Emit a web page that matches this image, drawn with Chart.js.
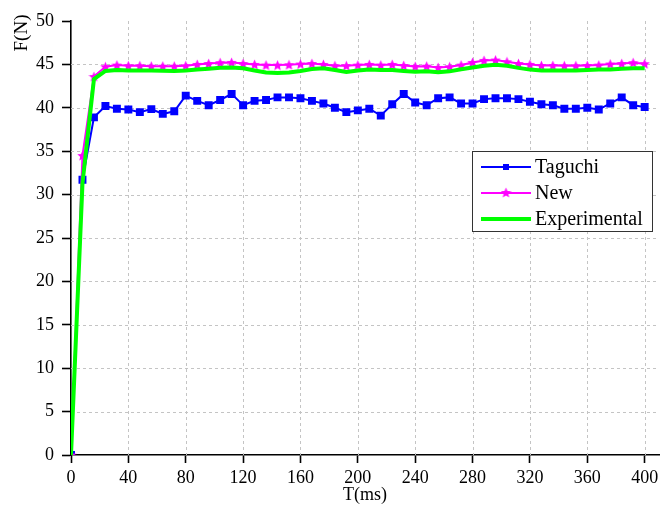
<!DOCTYPE html>
<html>
<head>
<meta charset="utf-8">
<script src="https://cdn.jsdelivr.net/npm/chart.js@4.4.1/dist/chart.umd.min.js"></script>
<style>
  html, body { margin: 0; padding: 0; background: #fff; }
  #wrap { width: 660px; height: 511px; }
</style>
</head>
<body>
<div id="wrap"><canvas id="forceChart" width="660" height="511"></canvas></div>
<script>
// --- data (time step 8 ms) ---
const timeMs = [0, 8, 16, 24, 32, 40, 48, 56, 64, 72, 80, 88, 96, 104, 112, 120, 128, 136, 144, 152,
  160, 168, 176, 184, 192, 200, 208, 216, 224, 232, 240, 248, 256, 264, 272, 280, 288, 296, 304, 312,
  320, 328, 336, 344, 352, 360, 368, 376, 384, 392, 400];

const taguchi = [0, 31.7, 38.9, 40.2, 39.9, 39.8, 39.5, 39.85, 39.3, 39.6, 41.4, 40.8, 40.3, 40.9, 41.6, 40.3, 40.8, 40.9, 41.2, 41.2,
  41.1, 40.8, 40.5, 40.0, 39.5, 39.7, 39.9, 39.1, 40.4, 41.6, 40.6, 40.3, 41.1, 41.2, 40.5, 40.5, 41.0, 41.1, 41.1, 41.0,
  40.7, 40.4, 40.3, 39.9, 39.9, 40.0, 39.8, 40.5, 41.2, 40.3, 40.1];

const newModel = [0, 34.5, 43.6, 44.73, 44.92, 44.85, 44.85, 44.8, 44.8, 44.8, 44.85, 45.0, 45.1, 45.2, 45.23, 45.1, 45.0, 44.92, 44.92, 44.96,
  45.04, 45.1, 45.0, 44.85, 44.85, 44.92, 45.0, 44.92, 45.0, 44.88, 44.77, 44.8, 44.65, 44.73, 44.92, 45.23, 45.46, 45.5, 45.3, 45.1,
  45.0, 44.88, 44.88, 44.85, 44.85, 44.88, 44.92, 45.04, 45.1, 45.2, 45.08];

const experimental = [0, 31.3, 43.3, 44.25, 44.35, 44.3, 44.3, 44.3, 44.27, 44.25, 44.3, 44.42, 44.5, 44.6, 44.65, 44.55, 44.3, 44.08, 44.0, 44.08,
  44.25, 44.47, 44.55, 44.35, 44.12, 44.3, 44.4, 44.35, 44.35, 44.25, 44.15, 44.2, 44.1, 44.2, 44.45, 44.65, 44.85, 44.95, 44.85, 44.6,
  44.4, 44.3, 44.3, 44.3, 44.3, 44.35, 44.4, 44.4, 44.5, 44.55, 44.55];

const seriesNames = ['Taguchi', 'New', 'Experimental'];
const xTickValues = [0, 40, 80, 120, 160, 200, 240, 280, 320, 360, 400];
const yTickValues = [0, 5, 10, 15, 20, 25, 30, 35, 40, 45, 50];
const yTitle = 'F(N)';
const xTitle = 'T(ms)';

const FONT = '"Liberation Serif", "Times New Roman", serif';
const BLUE = '#0000ff', MAGENTA = '#ff00ff', GREEN = '#00ff00';
const GRID = '#c4c4c4';

// filled five-point star used as point marker
function starImage(color, size) {
  const c = document.createElement('canvas');
  c.width = size; c.height = size;
  const g = c.getContext('2d');
  const cx = size / 2, cy = size / 2 + 0.5, ro = size / 2, ri = ro * 0.45;
  g.beginPath();
  for (let i = 0; i < 10; i++) {
    const r = i % 2 ? ri : ro;
    const a = -Math.PI / 2 + i * Math.PI / 5;
    g.lineTo(cx + r * Math.cos(a), cy + r * Math.sin(a));
  }
  g.closePath();
  g.fillStyle = color;
  g.fill();
  return c;
}
const star = starImage(MAGENTA, 11);

const toXY = vals => vals.map((v, i) => ({ x: timeMs[i], y: v }));

// dashed grid lines drawn under the datasets, from the scales' own ticks
const dashedGrid = {
  id: 'dashedGrid',
  beforeDatasetsDraw(chart) {
    const { ctx, chartArea: a, scales: { x, y } } = chart;
    ctx.save();
    ctx.strokeStyle = GRID;
    ctx.lineWidth = 1;
    ctx.setLineDash([3, 3]);
    x.ticks.forEach(t => {
      if (t.value === 0) return;
      const px = Math.round(x.getPixelForValue(t.value)) + 0.5;
      ctx.beginPath(); ctx.moveTo(px, a.top); ctx.lineTo(px, a.bottom); ctx.stroke();
    });
    y.ticks.forEach(t => {
      if (t.value === 0 || t.value === 50) return;
      const py = Math.round(y.getPixelForValue(t.value)) + 0.5;
      ctx.beginPath(); ctx.moveTo(a.left, py); ctx.lineTo(a.right, py); ctx.stroke();
    });
    ctx.restore();
  }
};

// y title + boxed legend inside the plot
const extras = {
  id: 'extras',
  afterDraw(chart) {
    const ctx = chart.ctx;
    ctx.save();
    ctx.fillStyle = '#000';
    ctx.font = '19px ' + FONT;
    ctx.translate(22, 33);
    ctx.rotate(-Math.PI / 2);
    ctx.textAlign = 'center';
    ctx.textBaseline = 'middle';
    ctx.fillText(yTitle, 0, 0);
    ctx.restore();

    // legend box
    const bx = 472.5, by = 151.5, bw = 180, bh = 80;
    ctx.save();
    ctx.fillStyle = '#fff';
    ctx.fillRect(bx, by, bw, bh);
    ctx.strokeStyle = '#333';
    ctx.lineWidth = 1;
    ctx.strokeRect(bx, by, bw, bh);
    const rows = [
      { label: seriesNames[0], color: BLUE, width: 2, mark: 'rect' },
      { label: seriesNames[1], color: MAGENTA, width: 2, mark: 'star' },
      { label: seriesNames[2], color: GREEN, width: 4, mark: null }
    ];
    rows.forEach((r, i) => {
      const y = 167 + i * 26;
      ctx.strokeStyle = r.color;
      ctx.lineWidth = r.width;
      ctx.beginPath();
      ctx.moveTo(481, y);
      ctx.lineTo(531, y);
      ctx.stroke();
      if (r.mark === 'rect') {
        ctx.fillStyle = r.color;
        ctx.fillRect(503, y - 3, 6, 6);
      } else if (r.mark === 'star') {
        ctx.drawImage(star, 506 - 5.5, y - 6);
      }
      ctx.fillStyle = '#000';
      ctx.font = '20px ' + FONT;
      ctx.textAlign = 'left';
      ctx.textBaseline = 'middle';
      ctx.fillText(r.label, 535, y + 1);
    });
    ctx.restore();
  }
};

new Chart(document.getElementById('forceChart'), {
  type: 'line',
  data: {
    datasets: [
      {
        label: seriesNames[2], data: toXY(experimental), order: 0,
        borderColor: GREEN, backgroundColor: GREEN, borderWidth: 4,
        pointRadius: 0, tension: 0, fill: false
      },
      {
        label: seriesNames[1], data: toXY(newModel), order: 1,
        borderColor: MAGENTA, backgroundColor: MAGENTA, borderWidth: 2,
        pointStyle: star, pointRadius: 5, tension: 0, fill: false
      },
      {
        label: seriesNames[0], data: toXY(taguchi), order: 2,
        borderColor: BLUE, backgroundColor: BLUE, borderWidth: 2,
        pointStyle: 'rect', pointRadius: 4.2, tension: 0, fill: false
      }
    ]
  },
  options: {
    responsive: false,
    devicePixelRatio: 1,
    animation: false,
    events: [],
    layout: { autoPadding: false, padding: { top: 21, right: 1, bottom: 1, left: 0 } },
    plugins: { legend: { display: false }, tooltip: { enabled: false } },
    scales: {
      x: {
        type: 'linear', min: 0, max: 410,
        afterBuildTicks: s => { s.ticks = xTickValues.map(v => ({ value: v })); },
        afterFit: s => { s.height = 55; s.paddingLeft = 0; s.paddingRight = 0; },
        ticks: { autoSkip: false, maxRotation: 0, padding: 4, color: '#000', font: { family: FONT, size: 18 } },
        grid: { drawOnChartArea: false, tickLength: 8, tickColor: '#000', tickWidth: 1.6 },
        border: { display: true, color: '#000', width: 1.6 },
        title: { display: true, text: xTitle, color: '#000', font: { family: FONT, size: 18 }, padding: { top: 0, bottom: 4 } }
      },
      y: {
        min: 0, max: 50,
        afterBuildTicks: s => { s.ticks = yTickValues.map(v => ({ value: v })); },
        afterFit: s => { s.width = 71; },
        ticks: { padding: 8, color: '#000', font: { family: FONT, size: 18 } },
        grid: { drawOnChartArea: false, tickLength: 9, tickColor: '#000', tickWidth: 1.6 },
        border: { display: true, color: '#000', width: 1.6 }
      }
    }
  },
  plugins: [dashedGrid, extras]
});
</script>
</body>
</html>
